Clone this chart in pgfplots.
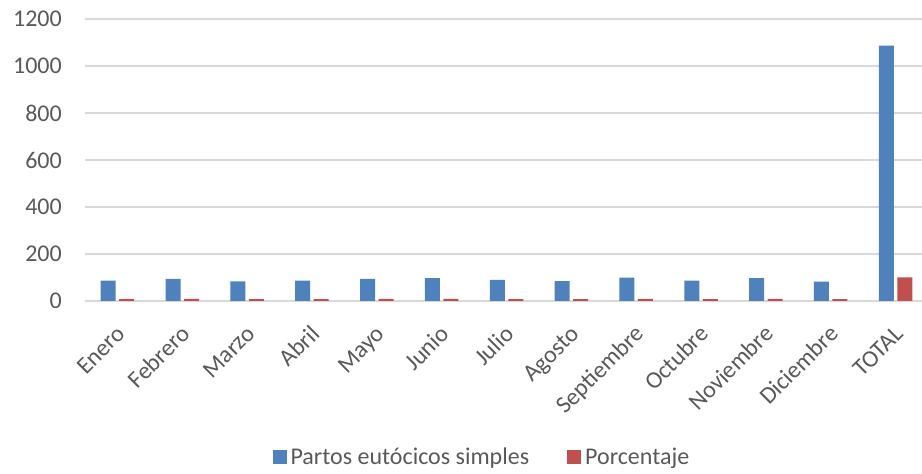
\documentclass[border=0pt]{standalone}
\usepackage{pgfplots}
\pgfplotsset{compat=1.18}
\usepackage{fontspec}
\setmainfont{Carlito}
\definecolor{barblue}{HTML}{4F81BD}
\definecolor{barred}{HTML}{C0504D}
\definecolor{textgray}{HTML}{595959}
\definecolor{gridgray}{HTML}{D9D9D9}
\pgfplotsset{sqlegend/.style={legend image code/.code={\fill[##1] (0pt,-7pt) rectangle (14pt,7pt);}}}
\begin{document}
\begin{tikzpicture}[x=1pt,y=1pt]
\useasboundingbox (0,0) rectangle (922,474);
\begin{axis}[
  at={(85pt,173pt)}, anchor=south west,
  scale only axis, width=843pt, height=282pt,
  xmin=-0.5, xmax=12.5, ymin=0, ymax=1200,
  ytick={0,200,...,1200},
  yticklabels={0,200,400,600,800,1000,1200},
  xtick={0,...,12},
  xticklabels={Enero,Febrero,Marzo,Abril,Mayo,Junio,Julio,Agosto,Septiembre,Octubre,Noviembre,Diciembre,TOTAL},
  axis line style={draw=none},
  major tick length=0pt,
  ymajorgrids, grid style={color=gridgray, line width=1.2pt},
  tick label style={font=\fontsize{24}{28}\selectfont, text=textgray},
  yticklabel style={inner sep=0pt, anchor=east, xshift=-23pt},
  xticklabel style={inner sep=0pt, text height=17pt, text depth=5pt, xshift=5pt, yshift=-30pt, rotate=45, anchor=east},
  legend columns=2,
  legend style={at={(0.472,-0.553)}, anchor=center, draw=none, fill=none,
    font=\fontsize{24}{28}\selectfont, text=textgray,
    nodes={inner sep=4pt},
    /tikz/every even column/.append style={column sep=34pt}},
]
\addplot[ybar, bar width=15pt, fill=barblue, draw=none, bar shift=-9.25pt, sqlegend]
  coordinates {(0,87) (1,94) (2,84) (3,87) (4,94) (5,97) (6,90) (7,85) (8,99) (9,87) (10,97) (11,82) (12,1087)};
\addlegendentry{Partos eutócicos simples}
\addplot[ybar, bar width=15pt, fill=barred, draw=none, bar shift=9.25pt, sqlegend]
  coordinates {(0,8.0) (1,8.6) (2,7.7) (3,8.0) (4,8.6) (5,8.9) (6,8.3) (7,7.8) (8,9.1) (9,8.0) (10,8.9) (11,7.5) (12,100)};
\addlegendentry{Porcentaje}
\end{axis}
\end{tikzpicture}
\end{document}
